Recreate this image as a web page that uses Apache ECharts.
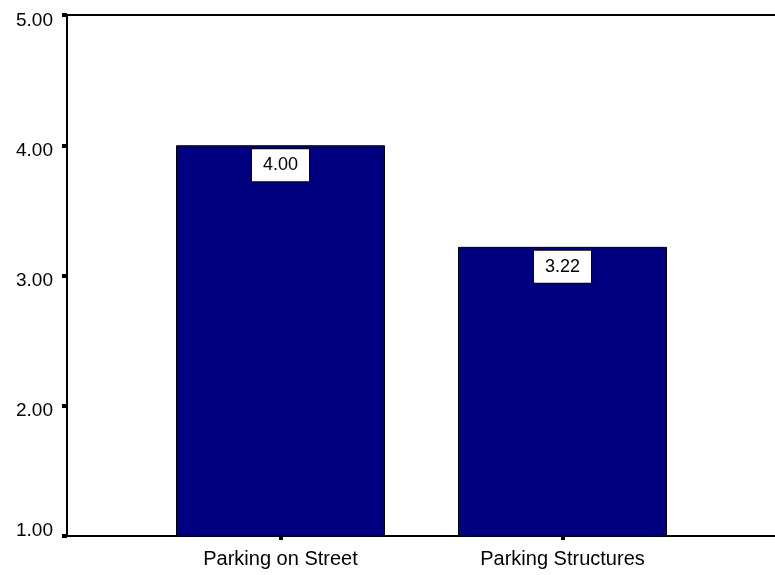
<!DOCTYPE html>
<html>
<head>
<meta charset="utf-8">
<script src="https://cdn.jsdelivr.net/npm/echarts@6/dist/echarts.min.js"></script>
<style>
  html, body { margin: 0; padding: 0; background: #fff; }
  #chart { width: 775px; height: 575px; }
</style>
</head>
<body>
<div id="chart"></div>
<script>
// Mean rating per parking type
const categories = ['Parking on Street', 'Parking Structures'];
const meanValues = [4.00, 3.22];
const yTicks = [1, 2, 3, 4, 5];

const FONT = "'Liberation Sans', Arial, sans-serif";
const chart = echarts.init(document.getElementById('chart'), null, { renderer: 'canvas' });

const frameLine = { show: true, lineStyle: { color: '#000', width: 2 } };

chart.setOption({
  backgroundColor: '#ffffff',
  animation: false,
  grid: [
    // frame with the value axis (open on the right)
    { left: 67, top: 15, right: 0, bottom: 39 },
    // area holding the bars
    { left: 139.5, top: 15, right: 71.5, bottom: 39 }
  ],
  xAxis: [
    { gridIndex: 0, type: 'value', min: 0, max: 1, position: 'bottom',
      axisLine: frameLine, axisTick: { show: false }, axisLabel: { show: false }, splitLine: { show: false } },
    { gridIndex: 0, type: 'value', min: 0, max: 1, position: 'top',
      axisLine: frameLine, axisTick: { show: false }, axisLabel: { show: false }, splitLine: { show: false } },
    {
      gridIndex: 1, type: 'category', data: categories,
      axisLine: { show: false },
      axisTick: { show: true, alignWithLabel: true, length: 4, lineStyle: { color: '#000', width: 4 } },
      axisLabel: { color: '#000', fontFamily: FONT, fontSize: 20, margin: 13 },
      splitLine: { show: false }
    }
  ],
  yAxis: [
    {
      gridIndex: 0, type: 'value',
      min: yTicks[0], max: yTicks[yTicks.length - 1], interval: 1,
      axisLine: frameLine,
      axisTick: { show: true, length: 5, lineStyle: { color: '#000', width: 4 } },
      axisLabel: {
        color: '#000', fontFamily: FONT, fontSize: 19, margin: 14,
        verticalAlign: 'top',
        lineHeight: 11,
        verticalAlignMinLabel: 'bottom',
        formatter: v => v.toFixed(2)
      },
      splitLine: { show: false }
    },
    { gridIndex: 1, type: 'value', show: false, min: yTicks[0], max: yTicks[yTicks.length - 1] }
  ],
  series: [{
    type: 'bar',
    xAxisIndex: 2,
    yAxisIndex: 1,
    data: meanValues,
    barWidth: 209,
    itemStyle: { color: '#000080', borderColor: '#000', borderWidth: 1 },
    label: {
      show: true,
      position: 'insideTop',
      distance: 4,
      color: '#000',
      fontFamily: FONT,
      fontSize: 18,
      backgroundColor: '#fff',
      borderColor: '#000',
      borderWidth: 1,
      padding: [7, 11, 7, 11],
      formatter: p => p.value.toFixed(2)
    }
  }]
});
</script>
</body>
</html>
